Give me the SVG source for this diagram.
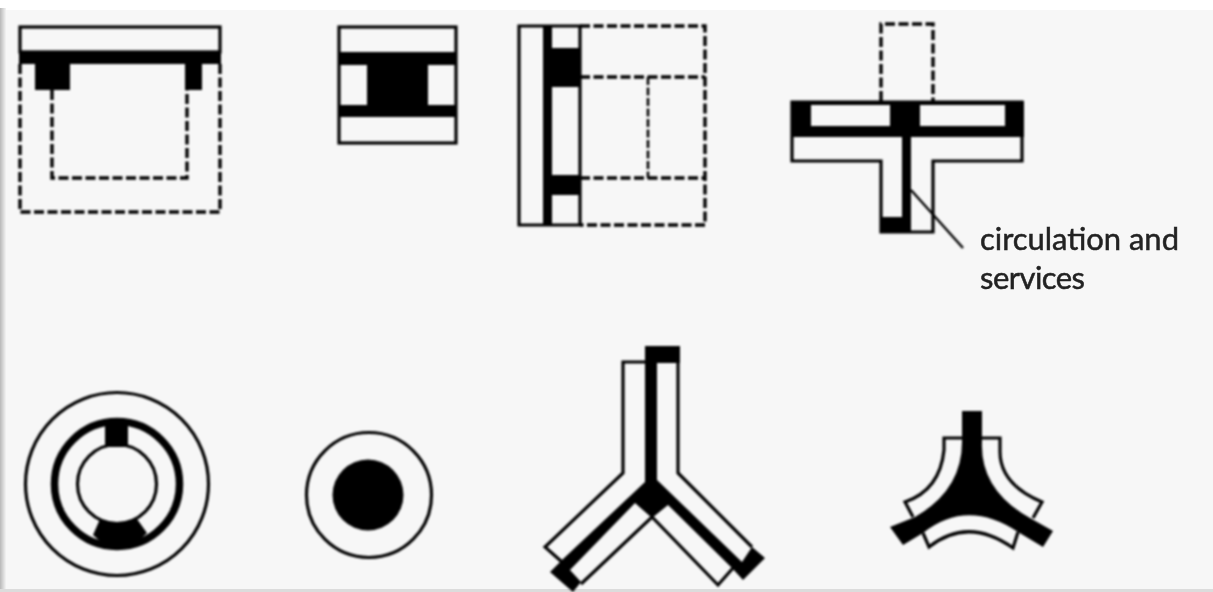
<svg xmlns="http://www.w3.org/2000/svg" width="1213" height="592" viewBox="0 0 1213 592">
<defs>
<linearGradient id="edge" x1="0" x2="1" y1="0" y2="0"><stop offset="0" stop-color="#b8b8b8"/><stop offset="1" stop-color="#f4f4f4"/></linearGradient>
<filter id="soft" x="-5%" y="-5%" width="110%" height="110%"><feGaussianBlur stdDeviation="0.85"/></filter>
<filter id="softer" x="-5%" y="-5%" width="110%" height="110%"><feGaussianBlur stdDeviation="0.5"/></filter>
</defs>
<style>
.o{fill:none;stroke:#000;stroke-width:3.2;stroke-linejoin:miter}
.d{fill:none;stroke:#000;stroke-width:3.4;stroke-dasharray:10 3.5}
.d2{fill:none;stroke:#000;stroke-width:2.6;stroke-dasharray:8 2.5}
.b{fill:#000;stroke:none}
.t{font-family:"Lato","Liberation Sans",sans-serif;font-size:31px;fill:#222;stroke:#222;stroke-width:.5}
</style>
<rect width="1213" height="592" fill="#f7f7f7"/>
<rect width="1213" height="10" fill="#fff"/>
<rect x="0" y="8" width="6" height="584" fill="url(#edge)"/>
<rect x="0" y="589" width="1213" height="3" fill="#dcdcdc"/>
<g filter="url(#soft)">
<g id="node-1">
<rect class="o" x="20" y="27" width="200" height="25"/>
<path class="b" d="M19 52H221V64H202V90H185V64H70V90H35V64H19Z"/>
<path class="d" d="M20 64V212H220V64"/>
<path class="d" d="M52 90V178H187V90"/>
</g>
<g id="node-2">
<rect class="o" x="339" y="27" width="117" height="116"/>
<path class="b" d="M338 52H457V65H428V105H457V117H338V105H367V65H338Z"/>
</g>
<g id="node-3">
<path class="o" d="M519 26H580V225H519Z"/>
<path class="b" d="M543 25H552V48H581V87H552V175H581V195H552V226H543Z"/>
<path class="d" d="M580 26H705V225H580"/>
<path class="d" d="M580 77H705M580 178H705"/>
<path class="d2" d="M648 77V178"/>
</g>
<g id="node-4">
<path class="d" d="M881 101V24H933V101"/>
<path class="o" d="M792 102H1022V161H933V232H881V161H792Z"/>
<path class="b" d="M791 101H890V102H920V101H1024V137H911V232H881V217H902V137H791V101ZM811 105V126H890V105ZM920 105V126H1005V105Z" fill-rule="evenodd"/>
</g>
<g id="node-5">
<circle class="o" cx="117" cy="484" r="91.5"/>
<circle cx="117" cy="484" r="62.5" fill="none" stroke="#000" stroke-width="7.5"/>
<circle cx="117" cy="484" r="39.5" fill="none" stroke="#000" stroke-width="3.2"/>
<path class="b" d="M105 420H128V447H105Z"/>
<path class="b" d="M93 535L100 519Q117 527 137 519L147 533Q120 562 93 535Z"/>
</g>
<g id="node-6">
<circle class="o" cx="369" cy="495" r="62.5"/>
<circle class="b" cx="368" cy="495" r="35.5"/>
</g>
<g id="node-7">
<path class="o" d="M645 362H623V473L545 547L562 562M581 584L652 517L718 585L733 568M678 360V473L752 547"/>
<path class="b" d="M645 346H680V363H657V480L742 562L752 547L765 558L743 580L732 568L668 505L652 518L635 503L570 570L581 582L573 592L550 572L562 560L645 482Z"/>
</g>
<g id="node-8">
<path class="o" d="M962 438H944V450Q940 490 905 502L913 517M982 438H1000V450Q999 484 1042 502L1033 518M923 533L929 547Q968 516 1013 548L1018 532"/>
<path class="b" d="M962 411H982V442Q980 490 1030 518L1053 531L1043 547L1018 532Q967 498 923 533L903 545L890 527L915 517Q962 490 962 442Z"/>
</g>
<g id="connectors">
<path d="M911 190L963 248" fill="none" stroke="#000" stroke-width="2.4"/>
</g>
</g>
<g id="label" filter="url(#softer)">
<text class="t" x="980" y="250" textLength="199">circulation and</text>
<text class="t" x="980" y="289" textLength="105">services</text>
</g>
</svg>
